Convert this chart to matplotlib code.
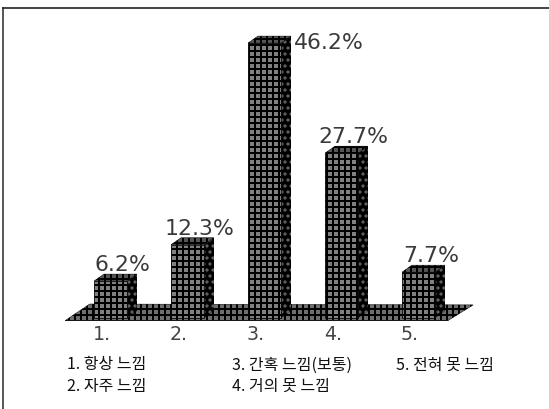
import matplotlib

matplotlib.use("Agg")
import matplotlib.pyplot as plt
from matplotlib.lines import Line2D
from matplotlib.patches import Polygon

categories = ["1.", "2.", "3.", "4.", "5."]
values = [6.2, 12.3, 46.2, 27.7, 7.7]
value_labels = ["6.2%", "12.3%", "46.2%", "27.7%", "7.7%"]
legend_left = ["1. 항상 느낌", "2. 자주 느낌"]
legend_mid = ["3. 간혹 느낌(보통)", "4. 거의 못 느낌"]
legend_right = ["5. 전혀 못 느낌"]

W, H = 549, 409
plt.rcParams["font.family"] = ["Noto Sans CJK KR", "DejaVu Sans"]
plt.rcParams["hatch.linewidth"] = 2.0

# dpi 72 so that 1 pt = 1 px and the hatch spacing comes out near 6 px
fig = plt.figure(figsize=(W / 72, H / 72), dpi=72, facecolor="white")

# only the top and left edges of the scanned frame are visible
fig.add_artist(Line2D([3 / W, 1], [1 - 8 / H, 1 - 8 / H], color="#333333", linewidth=1.8))
fig.add_artist(Line2D([3 / W, 3 / W], [0, 1 - 8 / H], color="#222222", linewidth=1.5))

# axes: one category = 77 px, 1 % = 5.95 px
y0_px, unit = 318, 5.95
left_px, right_px = 72, 457
ax = fig.add_axes([left_px / W, 1 - y0_px / H, (right_px - left_px) / W, 290 / H])
ax.set_xlim(-0.5, 4.5)
ax.set_ylim(0, 290 / unit)
ax.patch.set_alpha(0)
for s in ax.spines.values():
    s.set_visible(False)
ax.set_yticks([])

x = list(range(len(categories)))
# the category labels sit a bit left of the bars in the original
ax.set_xticks([xi - 0.115 for xi in x])
ax.set_xticklabels(categories, fontsize=19, color="#444444", family="DejaVu Sans")
ax.tick_params(axis="x", length=0, pad=7)

bar_w = 33 / 77
dx, dy = 10 / 77, 7 / unit  # depth of the fake 3d box

# floor
floor = Polygon([(-0.59, -0.45), (-0.27, 2.35), (4.71, 2.2), (4.38, -0.45)],
                facecolor="#6e6e6e", hatch="++", edgecolor="black", linewidth=0.5,
                clip_on=False, zorder=1)
ax.add_patch(floor)

for xi, v, lab in zip(x, values, value_labels):
    x1, x2 = xi - bar_w / 2, xi + bar_w / 2
    # right side of the box
    side = Polygon([(x2, 0), (x2 + dx, dy), (x2 + dx, v + dy), (x2, v)],
                   facecolor="black", edgecolor="#666666", hatch="..", linewidth=0,
                   clip_on=False, zorder=2)
    ax.add_patch(side)
    # top of the box
    top = Polygon([(x1, v), (x1 + dx, v + dy), (x2 + dx, v + dy), (x2, v)],
                  facecolor="#555555", hatch="++", edgecolor="black", linewidth=0.5,
                  clip_on=False, zorder=2)
    ax.add_patch(top)
    # label, the tallest one sits beside its bar
    if v == max(values):
        ax.text(x2 + dx + 0.04, v + 0.1, lab, fontsize=22, color="#3a3a3a",
                family="DejaVu Sans", va="center", ha="left", zorder=4)
    else:
        ax.text(xi + 0.16, v + dy + 1.5, lab, fontsize=22, color="#3a3a3a",
                family="DejaVu Sans", va="center", ha="center", zorder=4)

ax.bar(x, values, width=bar_w, color="#808080", edgecolor="black", hatch="++",
       linewidth=0.8, zorder=3, clip_on=False)


def put_legend(lines, x_px, y_px):
    for i, line in enumerate(lines):
        fig.text(x_px / W, 1 - (y_px + i * 21) / H, line, fontsize=16, color="#111111",
                 va="center", ha="left")


put_legend(legend_left, 67, 365)
put_legend(legend_mid, 232, 365)
put_legend(legend_right, 396, 365)

fig.savefig("out.png", dpi=72, facecolor="white")
